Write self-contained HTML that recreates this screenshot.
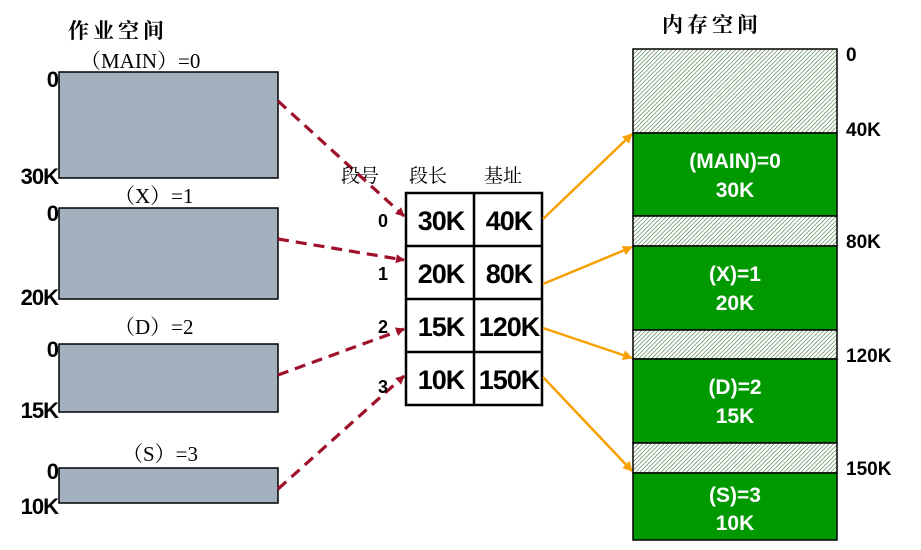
<!DOCTYPE html>
<html><head><meta charset="utf-8"><style>
html,body{margin:0;padding:0;background:#fff;}
svg{display:block;}
.b{font-family:"Liberation Sans","Noto Sans CJK SC",sans-serif;font-weight:bold;}
.s{font-family:"Liberation Serif","Noto Serif CJK SC",serif;}
</style></head><body>
<svg width="921" height="550" viewBox="0 0 921 550" xmlns="http://www.w3.org/2000/svg">
<defs>
<pattern id="h" width="3" height="3" patternUnits="userSpaceOnUse" patternTransform="rotate(45)">
<rect width="3" height="3" fill="#fff"/><line x1="0" y1="0" x2="0" y2="3" stroke="#2e6b2e" stroke-width="1.1"/>
</pattern>
<marker id="ar" markerWidth="9" markerHeight="9" refX="8" refY="4.5" orient="auto" markerUnits="userSpaceOnUse"><path d="M0,0 L9,4.5 L0,9 z" fill="#a0102a"/></marker>
<marker id="ao" markerWidth="10" markerHeight="10" refX="9" refY="5" orient="auto" markerUnits="userSpaceOnUse"><path d="M0,0 L10,5 L0,10 z" fill="#f9a000"/></marker>
</defs>
<text x="68" y="38" class="s" font-size="21" font-weight="bold" letter-spacing="4">作业空间</text>
<text x="80" y="68" class="s" font-size="21">（MAIN）=0</text>
<text x="114" y="203" class="s" font-size="21">（X）=1</text>
<text x="114" y="334" class="s" font-size="21">（D）=2</text>
<text x="122" y="461" class="s" font-size="21">（S）=3</text>
<g fill="#a3b1bf" stroke="#000" stroke-width="1.5">
<rect x="59" y="72" width="219" height="106"/>
<rect x="59" y="208" width="219" height="91"/>
<rect x="59" y="344" width="219" height="68"/>
<rect x="59" y="468" width="219" height="35"/>
</g>
<g class="b" font-size="22" text-anchor="end" letter-spacing="-1">
<text x="58" y="87">0</text><text x="58" y="184">30K</text>
<text x="58" y="221">0</text><text x="58" y="305">20K</text>
<text x="58" y="357">0</text><text x="58" y="418">15K</text>
<text x="58" y="479">0</text><text x="58" y="514">10K</text>
</g>
<g stroke="#a0102a" stroke-width="3.2" stroke-dasharray="11,7" fill="none" marker-end="url(#ar)">
<line x1="278" y1="101" x2="404" y2="216"/>
<line x1="278" y1="239" x2="404" y2="260"/>
<line x1="278" y1="375" x2="404" y2="329"/>
<line x1="278" y1="489" x2="404" y2="376"/>
</g>
<text x="341" y="182" class="s" font-size="19">段号</text>
<text x="409" y="182" class="s" font-size="19">段长</text>
<text x="484" y="182" class="s" font-size="19">基址</text>
<g class="b" font-size="18"><text x="378" y="227">0</text><text x="378" y="280">1</text><text x="378" y="333">2</text><text x="378" y="393">3</text></g>
<g fill="#fff" stroke="#000" stroke-width="2.5">
<rect x="406" y="193" width="136" height="212"/>
<line x1="474" y1="193" x2="474" y2="405"/>
<line x1="406" y1="246" x2="542" y2="246"/>
<line x1="406" y1="299" x2="542" y2="299"/>
<line x1="406" y1="352" x2="542" y2="352"/>
</g>
<g class="b" font-size="27" text-anchor="middle" letter-spacing="-1">
<text x="441" y="230">30K</text><text x="509" y="230">40K</text>
<text x="441" y="283">20K</text><text x="509" y="283">80K</text>
<text x="441" y="336">15K</text><text x="509" y="336">120K</text>
<text x="441" y="389">10K</text><text x="509" y="389">150K</text>
</g>
<g stroke="#f9a000" stroke-width="2.5" fill="none" marker-end="url(#ao)">
<line x1="543" y1="219" x2="632" y2="134"/>
<line x1="543" y1="284" x2="632" y2="247"/>
<line x1="543" y1="328" x2="632" y2="358"/>
<line x1="543" y1="377" x2="632" y2="471"/>
</g>
<text x="662" y="32" class="s" font-size="21" font-weight="bold" letter-spacing="4">内存空间</text>
<g stroke="#000" stroke-width="1.5">
<rect x="633" y="49" width="204" height="84" fill="url(#h)"/>
<rect x="633" y="133" width="204" height="83" fill="#009900"/>
<rect x="633" y="216" width="204" height="30" fill="url(#h)"/>
<rect x="633" y="246" width="204" height="84" fill="#009900"/>
<rect x="633" y="330" width="204" height="29" fill="url(#h)"/>
<rect x="633" y="359" width="204" height="84" fill="#009900"/>
<rect x="633" y="443" width="204" height="30" fill="url(#h)"/>
<rect x="633" y="473" width="204" height="67" fill="#009900"/>
</g>
<g class="b" font-size="21" fill="#fff" text-anchor="middle">
<text x="735" y="168">(MAIN)=0</text><text x="735" y="197">30K</text>
<text x="735" y="281">(X)=1</text><text x="735" y="310">20K</text>
<text x="735" y="394">(D)=2</text><text x="735" y="423">15K</text>
<text x="735" y="502">(S)=3</text><text x="735" y="530">10K</text>
</g>
<g class="b" font-size="19">
<text x="846" y="61">0</text><text x="846" y="136">40K</text><text x="846" y="248">80K</text><text x="846" y="362">120K</text><text x="846" y="475">150K</text>
</g>
</svg>
</body></html>
